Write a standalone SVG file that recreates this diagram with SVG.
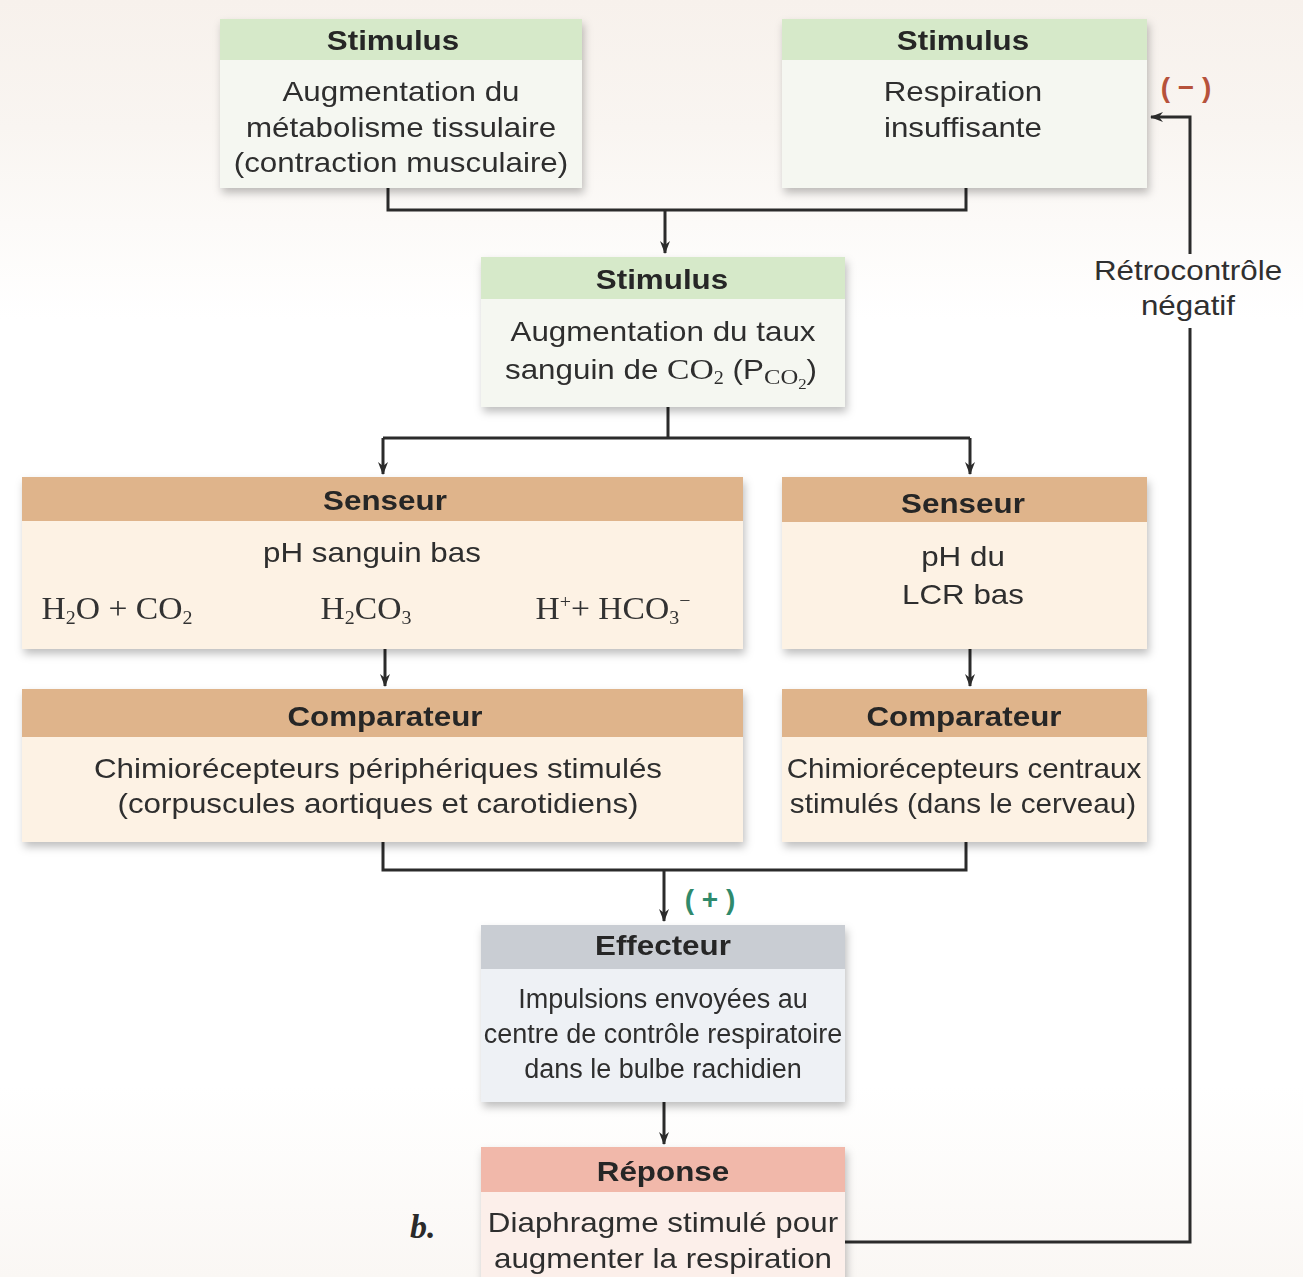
<svg xmlns="http://www.w3.org/2000/svg" width="1303" height="1277" viewBox="0 0 1303 1277">
<defs>
<linearGradient id="bg" x1="0" y1="0" x2="0" y2="1">
<stop offset="0" stop-color="#f7f1ec"/>
<stop offset="0.1" stop-color="#f9f5f1"/>
<stop offset="0.25" stop-color="#ffffff"/>
<stop offset="0.85" stop-color="#ffffff"/>
<stop offset="1" stop-color="#faf7f4"/>
</linearGradient>
<filter id="sh" x="-5%" y="-10%" width="112%" height="130%">
<feDropShadow dx="2" dy="5" stdDeviation="4" flood-color="#000" flood-opacity="0.25"/>
</filter>
<marker id="ah" viewBox="0 0 13 10" refX="12" refY="5" markerWidth="13" markerHeight="10" markerUnits="userSpaceOnUse" orient="auto">
<path d="M0 0 L13 5 L0 10 L4 5 Z" fill="#2b2b2b"/>
</marker>
<style>
.t{font-family:"Liberation Sans",Arial,sans-serif;font-size:28px;fill:#2f2f2f;text-anchor:middle;transform-box:fill-box;transform-origin:center;transform:scaleX(1.12)}
.h{font-weight:bold;fill:#262626}
.n{transform:scaleX(1.06)}
.u{transform:none;font-size:27px}
.c{font-family:"Liberation Serif","Times New Roman",serif}
.f{font-family:"Liberation Serif","Times New Roman",serif;font-size:32px;fill:#333;transform:scaleX(1.05)}
.ln{fill:none;stroke:#2b2b2b;stroke-width:3}
.gh{fill:#d6e9c9}.gb{fill:#f5f7f1}
.oh{fill:#dfb48b}.ob{fill:#fdf2e4}
.eh{fill:#c9cdd3}.eb{fill:#eef1f5}
.rh{fill:#f1b8aa}.rb{fill:#fcefea}
</style>
</defs>
<rect x="0" y="0" width="1303" height="1277" fill="url(#bg)"/>

<g id="connectors">
<path class="ln" d="M388 188 V210 H966 V188"/>
<path class="ln" d="M665 210 V253" marker-end="url(#ah)"/>
<path class="ln" d="M668 407 V438 M383 438 H970"/>
<path class="ln" d="M383 438 V474" marker-end="url(#ah)"/>
<path class="ln" d="M970 438 V474" marker-end="url(#ah)"/>
<path class="ln" d="M385 649 V686" marker-end="url(#ah)"/>
<path class="ln" d="M970 649 V686" marker-end="url(#ah)"/>
<path class="ln" d="M383 842 V870 H966 V842"/>
<path class="ln" d="M664 870 V921" marker-end="url(#ah)"/>
<path class="ln" d="M664 1102 V1144" marker-end="url(#ah)"/>
<path class="ln" d="M845 1242 H1190 V328"/>
<path class="ln" d="M1190 254 V117 H1151" marker-end="url(#ah)"/>
<text x="1186" y="97" style="font-family:'Liberation Sans',Arial,sans-serif;font-size:28px;font-weight:bold;fill:#b6523b;text-anchor:middle">( − )</text>
<text x="710" y="909" style="font-family:'Liberation Sans',Arial,sans-serif;font-size:28px;font-weight:bold;fill:#2f8a6c;text-anchor:middle">( + )</text>
<text class="t" x="1188" y="280">Rétrocontrôle</text>
<text class="t" x="1188" y="315">négatif</text>
</g>

<g id="stimulus-metabolisme" filter="url(#sh)">
<rect class="gb" x="220" y="19" width="362" height="169"/>
<rect class="gh" x="220" y="19" width="362" height="41"/>
<text class="t h" x="393" y="50">Stimulus</text>
<text class="t" x="401" y="101">Augmentation du</text>
<text class="t" x="401" y="137">métabolisme tissulaire</text>
<text class="t" x="401" y="172">(contraction musculaire)</text>
</g>

<g id="stimulus-respiration" filter="url(#sh)">
<rect class="gb" x="782" y="19" width="365" height="169"/>
<rect class="gh" x="782" y="19" width="365" height="41"/>
<text class="t h" x="963" y="50">Stimulus</text>
<text class="t" x="963" y="101">Respiration</text>
<text class="t" x="963" y="137">insuffisante</text>
</g>

<g id="stimulus-co2" filter="url(#sh)">
<rect class="gb" x="481" y="257" width="364" height="150"/>
<rect class="gh" x="481" y="257" width="364" height="42"/>
<text class="t h" x="662" y="289">Stimulus</text>
<text class="t" x="663" y="341">Augmentation du taux</text>
<text class="t" x="661" y="379">sanguin de <tspan class="c" font-size="30">CO</tspan><tspan class="c" font-size="18" dy="5">2</tspan><tspan dy="-5"> (P</tspan><tspan class="c" font-size="22" dy="5">CO</tspan><tspan class="c" font-size="15" dy="5">2</tspan><tspan dy="-10">)</tspan></text>
</g>

<g id="senseur-sang" filter="url(#sh)">
<rect class="ob" x="22" y="477" width="721" height="172"/>
<rect class="oh" x="22" y="477" width="721" height="44"/>
<text class="t h" x="385" y="510">Senseur</text>
<text class="t" x="372" y="562">pH sanguin bas</text>
<text class="t f" x="117" y="619">H<tspan font-size="19" dy="5">2</tspan><tspan dy="-5">O + CO</tspan><tspan font-size="19" dy="5">2</tspan></text>
<text class="t f" x="366" y="619">H<tspan font-size="19" dy="5">2</tspan><tspan dy="-5">CO</tspan><tspan font-size="19" dy="5">3</tspan></text>
<text class="t f" x="613" y="619">H<tspan font-size="19" dy="-11">+</tspan><tspan dy="11">+ HCO</tspan><tspan font-size="19" dy="5">3</tspan><tspan font-size="19" dy="-17">−</tspan></text>
</g>

<g id="senseur-lcr" filter="url(#sh)">
<rect class="ob" x="782" y="477" width="365" height="172"/>
<rect class="oh" x="782" y="477" width="365" height="45"/>
<text class="t h" x="963" y="513">Senseur</text>
<text class="t" x="963" y="566">pH du</text>
<text class="t" x="963" y="604">LCR bas</text>
</g>

<g id="comparateur-peripherique" filter="url(#sh)">
<rect class="ob" x="22" y="689" width="721" height="153"/>
<rect class="oh" x="22" y="689" width="721" height="48"/>
<text class="t h" x="385" y="726">Comparateur</text>
<text class="t" x="378" y="778">Chimiorécepteurs périphériques stimulés</text>
<text class="t" x="378" y="813">(corpuscules aortiques et carotidiens)</text>
</g>

<g id="comparateur-central" filter="url(#sh)">
<rect class="ob" x="782" y="689" width="365" height="153"/>
<rect class="oh" x="782" y="689" width="365" height="48"/>
<text class="t h" x="964" y="726">Comparateur</text>
<text class="t n" x="964" y="778">Chimiorécepteurs centraux</text>
<text class="t n" x="963" y="813">stimulés (dans le cerveau)</text>
</g>

<g id="effecteur" filter="url(#sh)">
<rect class="eb" x="481" y="925" width="364" height="177"/>
<rect class="eh" x="481" y="925" width="364" height="44"/>
<text class="t h" x="663" y="955">Effecteur</text>
<text class="t u" x="663" y="1008">Impulsions envoyées au</text>
<text class="t u" x="663" y="1043">centre de contrôle respiratoire</text>
<text class="t u" x="663" y="1078">dans le bulbe rachidien</text>
</g>

<g id="reponse" filter="url(#sh)">
<rect class="rb" x="481" y="1147" width="364" height="140"/>
<rect class="rh" x="481" y="1147" width="364" height="45"/>
<text class="t h" x="663" y="1181">Réponse</text>
<text class="t" x="663" y="1232">Diaphragme stimulé pour</text>
<text class="t" x="663" y="1268">augmenter la respiration</text>
</g>

<text x="410" y="1238" style="font-family:'Liberation Serif','Times New Roman',serif;font-size:34px;font-weight:bold;font-style:italic;fill:#2a2a2a">b.</text>
</svg>
